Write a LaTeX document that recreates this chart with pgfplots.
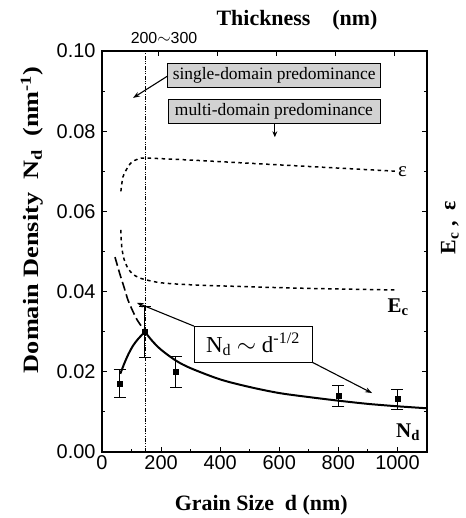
\documentclass[border=0pt]{standalone}
\usepackage{fontspec}
\setmainfont{Liberation Serif}
\newfontfamily\arial{Liberation Sans}
\usepackage{pgfplots}
\pgfplotsset{compat=1.18}
\usetikzlibrary{arrows.meta}

\begin{document}
\begin{tikzpicture}
\begin{axis}[
  width=325bp,height=401bp,scale only axis,
  xmin=0,xmax=1100,ymin=0,ymax=0.10,
  xtick={0,200,400,600,800,1000},minor x tick num=1,
  ytick={0,0.02,0.04,0.06,0.08,0.10},minor y tick num=1,
  xtick pos=left,
  scaled y ticks=false,
  x tick label style={/pgf/number format/.cd,set thousands separator={}},
  y tick label style={xshift=-3bp,/pgf/number format/.cd,fixed,fixed zerofill,precision=2},
  ticklabel style={font=\arial\fontsize{20}{20}\selectfont},
  /pgf/number format/assume math mode=true,
  axis line style={line width=1.6pt},
  tick style={line width=1.1pt,black},
  major tick length=5bp,minor tick length=3bp,
  clip=false,
]
% vertical marker line
\addplot[black,line width=0.6pt,dash pattern=on 4pt off 1.5pt on 0.8pt off 1.5pt on 0.8pt off 1.5pt] coordinates {(145,0)(145,0.10)};
% epsilon (short dash)
\addplot[black,line width=1.5pt,dash pattern=on 3.5pt off 3.5pt,smooth] coordinates {
(64,0.0650)(71,0.0686)(88,0.0711)(101,0.0723)(120,0.0730)(145,0.0733)(300,0.0728)(500,0.0720)(700,0.0712)(1000,0.0700)};
% Ec (short dash)
\addplot[black,line width=1.5pt,dash pattern=on 3.5pt off 3.5pt,smooth] coordinates {
(64,0.0554)(65,0.0530)(68,0.0505)(75,0.0480)(88,0.0458)(105,0.0443)(125,0.0435)(145,0.0430)(200,0.0422)(300,0.0417)(500,0.0412)(700,0.0408)(1000,0.0404)};
% long dashed branch
\addplot[black,line width=1.6pt,dash pattern=on 9pt off 4pt,smooth] coordinates {
(44,0.0486)(60,0.0445)(75,0.0410)(88,0.0379)(105,0.0350)(120,0.0328)(135,0.0312)(145,0.0300)};
% Nd fit (solid)
\addplot[black,line width=2pt,smooth] coordinates {
(62,0.0195)(75,0.0220)(90,0.0245)(105,0.0265)(120,0.0280)(135,0.0292)(145,0.0300)};
\addplot[black,line width=2pt,smooth] coordinates {
(145,0.0300)(170,0.0277)(200,0.0255)(250,0.0228)(300,0.0209)(400,0.0181)(500,0.0162)(600,0.0147)(700,0.0137)(800,0.0128)(900,0.0120)(1000,0.0114)(1100,0.0109)};
% data with error bars
\addplot[black,only marks,mark=square*,mark size=2.6bp,
  error bars/.cd,y dir=both,y explicit,
  error bar style={line width=0.9pt},
  error mark options={rotate=90,mark size=6bp,line width=0.9pt}]
  coordinates {
  (60,0.0170) +- (0,0.0035)
  (145,0.0300) +- (0,0.0063)
  (250,0.0200) +- (0,0.0038)
  (800,0.0140) +- (0,0.0026)
  (1000,0.0132) +- (0,0.0025)};
% top ticks
\draw[line width=1.1pt] (axis cs:190,0.10) -- ++(0,-5bp);
\draw[line width=1.1pt] (axis cs:390,0.10) -- ++(0,-5bp);
\draw[line width=1.1pt] (axis cs:590,0.10) -- ++(0,-5bp);
\draw[line width=1.1pt] (axis cs:790,0.10) -- ++(0,-5bp);
\draw[line width=1.1pt] (axis cs:990,0.10) -- ++(0,-5bp);
% annotations
\node[draw=black,line width=0.8pt,fill=gray!35,minimum width=213bp,minimum height=24bp,inner sep=1pt,font=\fontsize{17.5}{17.5}\selectfont] at (axis cs:583,0.0940) {single-domain predominance};
\node[draw=black,line width=0.8pt,fill=gray!35,minimum width=212bp,minimum height=24bp,inner sep=1pt,font=\fontsize{17.5}{17.5}\selectfont] at (axis cs:582,0.0850) {multi-domain predominance};
\draw[line width=1.1pt,-{Stealth[length=7pt,width=5pt]}] (axis cs:223,0.0938) -- (axis cs:105,0.0883);
\draw[line width=1.1pt,-{Stealth[length=6pt,width=5pt]}] (axis cs:585,0.0820) -- (axis cs:585,0.0785);
\node[draw=black,line width=0.8pt,fill=white,minimum width=118bp,minimum height=36bp,inner sep=1pt,font=\fontsize{23}{23}\selectfont] at (axis cs:511,0.0269) {N\textsubscript{d} $\sim$ d\textsuperscript{-1/2}};
\draw[line width=1.1pt,-{Stealth[length=7pt,width=5pt]}] (axis cs:311,0.0314) -- (axis cs:118,0.0372);
\draw[line width=1.1pt,-{Stealth[length=7pt,width=5pt]}] (axis cs:711,0.0224) -- (axis cs:914,0.0147);
\node[font=\fontsize{21}{21}\selectfont] at (axis cs:1017,0.0698) {ε};
\node[font=\bfseries\fontsize{21}{21}\selectfont] at (axis cs:1002,0.0362) {E\textsubscript{c}};
\node[font=\bfseries\fontsize{21}{21}\selectfont] at (axis cs:1036,0.0050) {N\textsubscript{d}};
\node[font=\arial\fontsize{16}{16}\selectfont] at (axis cs:210,0.1) [yshift=13bp] {200$\sim$300};
\node[font=\bfseries\fontsize{22}{22}\selectfont] at ([yshift=31bp]rel axis cs:0.6,1) {Thickness\ \ \ \ (nm)};
\node[font=\bfseries\fontsize{22}{22}\selectfont] at ([yshift=-53bp]rel axis cs:0.49,0) {Grain Size\ \ d (nm)};
\node[font=\bfseries\fontsize{22}{22}\selectfont,rotate=90,xscale=1.2] at ([xshift=-70bp]rel axis cs:0,0.579) {Domain Density\ \ N\textsubscript{d}\ \ (nm\textsuperscript{-1})};
\node[font=\bfseries\fontsize{22}{22}\selectfont,rotate=90] at ([xshift=23bp]rel axis cs:1,0.56) {E\textsubscript{c}\ ,\ \ ε};
\end{axis}
\pgfresetboundingbox
\path ([shift={(-102bp,-66bp)}]current axis.south west) rectangle ([shift={(39bp,51bp)}]current axis.north east);
\end{tikzpicture}
\end{document}
